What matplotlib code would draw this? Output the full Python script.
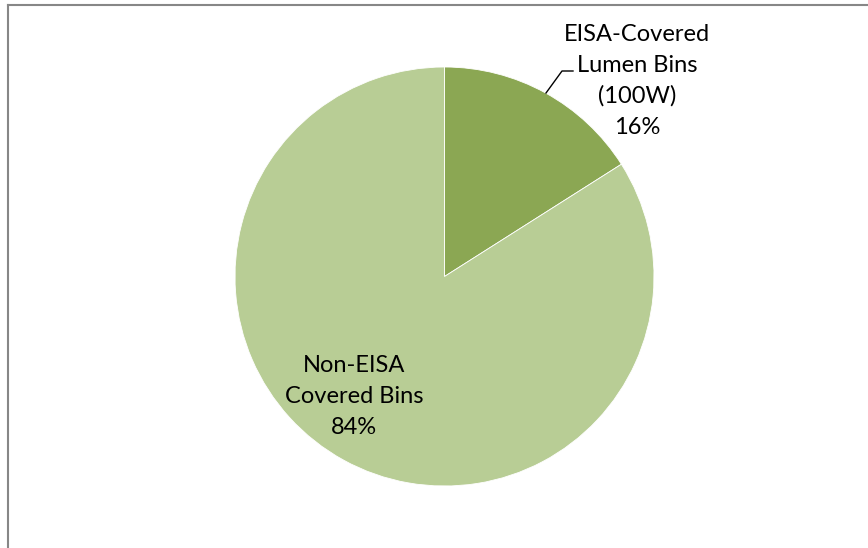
import matplotlib.pyplot as plt
from matplotlib.lines import Line2D

# Data
categories = ['EISA-Covered\nLumen Bins\n(100W)', 'Non-EISA\nCovered Bins']
shares = [16, 84]
colors = ['#8BA753', '#B8CD95']

W, H = 868, 548
plt.rcParams['font.family'] = ['Lato', 'DejaVu Sans']

fig = plt.figure(figsize=(W / 100, H / 100), dpi=100)
ax = fig.add_axes([0, 0, 1, 1])
ax.set_xlim(0, W)
ax.set_ylim(0, H)
ax.set_aspect('equal')
ax.axis('off')


def py(y):
    # pixel row (from top) -> data y
    return H - y


# Pie, first slice starts at 12 o'clock and runs clockwise
ax.pie(shares, colors=colors, startangle=90, counterclock=False,
       center=(444.5, py(276.5)), radius=209.5,
       wedgeprops=dict(edgecolor='white', linewidth=0.6), frame=True)
ax.set_xlim(0, W)
ax.set_ylim(0, H)
ax.axis('off')

# Data labels, one line at a time (31 px line step)
label_pos = [(637, 41), (354, 372)]
for cat, val, (x, y0) in zip(categories, shares, label_pos):
    lines = cat.split('\n') + [f'{val}%']
    for i, line in enumerate(lines):
        ax.text(x, py(y0 + 31 * i), line, ha='center', va='baseline',
                fontsize=17, color='black')

# leader line for the small slice
ax.plot([546, 562, 573], [py(93), py(71), py(71)], color='black', lw=1.0)

# chart frame (cropped, only top and left edges visible)
fig.add_artist(Line2D([7.5 / W, 1], [1 - 4.5 / H, 1 - 4.5 / H],
                      transform=fig.transFigure, color='#878787', lw=1.5))
fig.add_artist(Line2D([7.5 / W, 7.5 / W], [0, 1 - 4.5 / H],
                      transform=fig.transFigure, color='#878787', lw=1.5))

fig.savefig('out.png', dpi=100)
